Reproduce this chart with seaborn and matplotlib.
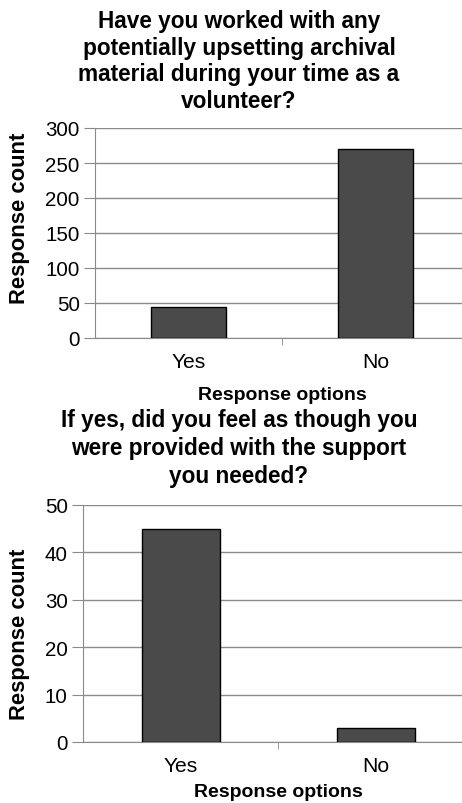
import pandas as pd
import seaborn as sns
import matplotlib.pyplot as plt

# Data
options = ['Yes', 'No']
counts_material = [45, 270]
counts_support = [45, 3]

title_top = 'Have you worked with any\npotentially upsetting archival\nmaterial during your time as a\nvolunteer?'
title_bottom = 'If yes, did you feel as though you\nwere provided with the support\nyou needed?'

sns.set_style('white')
plt.rcParams['font.family'] = ['Liberation Sans', 'DejaVu Sans']
plt.rcParams['text.color'] = 'black'
plt.rcParams['axes.labelcolor'] = 'black'

W, H = 462, 804
fig = plt.figure(figsize=(W / 100, H / 100), dpi=100)


def draw_panel(box, values, ymax, step, ylabel_y, xlabel_pad):
    left, right, top, bottom = box
    df = pd.DataFrame({'option': options, 'count': values})
    ax = fig.add_axes([left / W, 1 - bottom / H, (right - left) / W, (bottom - top) / H])
    sns.barplot(data=df, x='option', y='count', ax=ax, color='#4a4a4a',
                saturation=1, width=0.4, edgecolor='black', linewidth=1, zorder=3)
    ax.set_xlim(-0.5, 1.5)
    ax.set_ylim(0, ymax)
    ax.set_yticks(range(0, ymax + 1, step))
    ax.yaxis.grid(True, color='#8a8a8a', linewidth=1)
    ax.set_axisbelow(True)
    for s in ['top', 'right']:
        ax.spines[s].set_visible(False)
    ax.spines['left'].set_color('#8a8a8a')
    ax.spines['bottom'].set_color('#8a8a8a')
    ax.tick_params(axis='y', length=8, color='#8a8a8a', labelcolor='black',
                   labelsize=14.8, pad=3, left=True)
    ax.tick_params(axis='x', length=0, labelcolor='black', labelsize=15.2, pad=10)
    ax.set_xticks([0.5], minor=True)
    ax.tick_params(axis='x', which='minor', length=5, color='#8a8a8a', bottom=True)
    ax.set_ylabel('Response count', fontsize=15.8, fontweight='bold')
    # y label: right edge near x=30 px, centred at ylabel_y px
    ax.yaxis.set_label_coords((30 - left) / (right - left), (bottom - ylabel_y) / (bottom - top))
    ax.set_xlabel('Response options', fontsize=14, fontweight='bold', labelpad=xlabel_pad)
    return ax


draw_panel((95, 469, 129, 339), counts_material, 300, 50, 218, 11)
draw_panel((83, 473, 506, 743), counts_support, 50, 10, 634, 6)

fig.text(239 / W, 1 - 10 / H, title_top, ha='center', va='top', fontsize=16.3,
         fontweight='bold', linespacing=1.2)
fig.text(239 / W, 1 - 409 / H, title_bottom, ha='center', va='top', fontsize=16.3,
         fontweight='bold', linespacing=1.28)

fig.savefig('out.png', dpi=100)
